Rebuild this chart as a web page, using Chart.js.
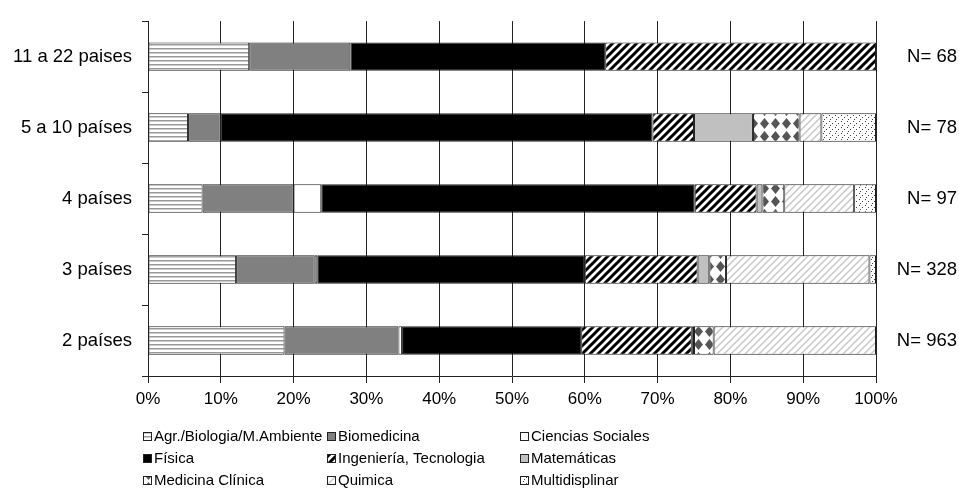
<!DOCTYPE html>
<html lang="es">
<head>
<meta charset="UTF-8">
<title>Países por área temática</title>
<style>
  body { margin: 0; background: #fff; }
  canvas { display: block; }
</style>
</head>
<body>
<canvas id="myChart" width="959" height="502"></canvas>
<script src="https://cdn.jsdelivr.net/npm/chart.js@4/dist/chart.umd.min.js"></script>
<script>
// datos (porcentaje de cada area por grupo de paises)
var categorias = ['11 a 22 paises', '5 a 10 países', '4 países', '3 países', '2 países'];
var nLabels = ['N= 68', 'N= 78', 'N= 97', 'N= 328', 'N= 963'];
var xTicks = [0, 10, 20, 30, 40, 50, 60, 70, 80, 90, 100];

var agr = [13.9, 5.5, 7.5, 12.1, 18.75];
var biomedicina = [13.9, 4.5, 12.5, 10.8, 15.65];
var cienciasSociales = [0, 0, 3.8, 0.35, 0.5];
var fisica = [35.0, 59.3, 51.3, 36.75, 24.6];
var ingenieria = [37.2, 5.7, 8.5, 15.5, 15.2];
var matematicas = [0, 8.1, 0.8, 1.6, 0.3];
var medicina = [0, 6.4, 3.0, 2.3, 2.7];
var quimica = [0, 3.0, 9.6, 19.7, 22.3];
var multidisciplinar = [0, 7.5, 3.0, 0.9, 0];

var nombres = ['Agr./Biologia/M.Ambiente', 'Biomedicina', 'Ciencias Sociales',
  'Física', 'Ingeniería, Tecnologia', 'Matemáticas',
  'Medicina Clínica', 'Quimica', 'Multidisplinar'];
var series = [agr, biomedicina, cienciasSociales, fisica, ingenieria, matematicas, medicina, quimica, multidisciplinar];

var FONT = "'Liberation Sans', Arial, sans-serif";

function patron(w, h, dibujar) {
  var c = document.createElement('canvas');
  c.width = w; c.height = h;
  var g = c.getContext('2d');
  g.fillStyle = '#fff';
  g.fillRect(0, 0, w, h);
  dibujar(g, w, h);
  return document.getElementById('myChart').getContext('2d').createPattern(c, 'repeat');
}

function diagonal(color, size, ancho) {
  return patron(size, size, function (g, s) {
    g.strokeStyle = color;
    g.lineWidth = ancho;
    g.beginPath();
    g.moveTo(-1, 1); g.lineTo(1, -1);
    g.moveTo(0, s); g.lineTo(s, 0);
    g.moveTo(s - 1, s + 1); g.lineTo(s + 1, s - 1);
    g.stroke();
  });
}

var rayas = patron(1, 4, function (g) {
  g.fillStyle = '#999'; g.fillRect(0, 0, 1, 1);
  g.fillStyle = '#ccc'; g.fillRect(0, 1, 1, 1);
});
var rombos = patron(11, 13, function (g) {
  g.fillStyle = '#555';
  g.beginPath();
  g.moveTo(5.5, 1); g.lineTo(10, 6.5); g.lineTo(5.5, 12); g.lineTo(1, 6.5);
  g.closePath();
  g.fill();
});
var puntos = patron(6, 6, function (g) {
  g.fillStyle = '#444';
  g.fillRect(1, 1, 1, 1);
  g.fillRect(4, 3, 1, 1);
  g.fillRect(2, 5, 1, 1);
});

var rellenos = [rayas, '#808080', '#ffffff', '#000000', diagonal('#000', 8, 3),
  '#c0c0c0', rombos, diagonal('#c8c8c8', 7, 1.5), puntos];

var datasets = series.map(function (d, i) {
  return {
    label: nombres[i],
    data: d,
    backgroundColor: rellenos[i],
    borderColor: '#222',
    borderWidth: 1,
    borderSkipped: false,
    barPercentage: 0.8,
    categoryPercentage: 0.5
  };
});

// leyenda en tres columnas como la original
var leyenda = {
  id: 'leyenda',
  afterDraw: function (chart) {
    var ctx = chart.ctx;
    var colX = [143, 327, 520];
    var filaY = [437, 459, 481];
    ctx.save();
    ctx.font = '15px ' + FONT;
    ctx.textBaseline = 'middle';
    ctx.textAlign = 'left';
    chart.data.datasets.forEach(function (ds, i) {
      var x = colX[i % 3], y = filaY[Math.floor(i / 3)];
      ctx.fillStyle = ds.backgroundColor;
      ctx.fillRect(x, y - 5, 9, 9);
      ctx.strokeStyle = '#222';
      ctx.lineWidth = 1;
      ctx.strokeRect(x + 0.5, y - 4.5, 8, 8);
      ctx.fillStyle = '#000';
      ctx.fillText(ds.label, x + 11, y);
    });
    ctx.restore();
  }
};

var ctx = document.getElementById('myChart').getContext('2d');
var myChart = new Chart(ctx, {
  type: 'bar',
  data: { labels: categorias, datasets: datasets },
  plugins: [leyenda],
  options: {
    indexAxis: 'y',
    responsive: false,
    animation: false,
    devicePixelRatio: 1,
    layout: { padding: { top: 16, right: 2, left: 0, bottom: 0 } },
    plugins: { legend: { display: false }, tooltip: { enabled: false } },
    scales: {
      x: {
        stacked: true,
        min: 0,
        max: 100,
        afterBuildTicks: function (scale) {
          scale.ticks = xTicks.map(function (v) { return { value: v }; });
        },
        ticks: {
          color: '#000',
          font: { family: FONT, size: 17 },
          padding: 6,
          maxRotation: 0,
          callback: function (v) { return v + '%'; }
        },
        grid: { color: '#222', lineWidth: 1, tickLength: 7 },
        border: { color: '#222' },
        afterFit: function (scale) { scale.height = 126; }
      },
      y: {
        stacked: true,
        position: 'left',
        ticks: { color: '#000', font: { family: FONT, size: 18.5 }, padding: 10 },
        grid: { drawOnChartArea: false, color: '#222', tickLength: 6, offset: true },
        border: { color: '#222' },
        afterFit: function (scale) { scale.width = 148; }
      },
      yN: {
        type: 'category',
        labels: nLabels,
        position: 'right',
        offset: true,
        ticks: { color: '#000', font: { family: FONT, size: 18.5 }, crossAlign: 'far' },
        grid: { display: false, drawTicks: false },
        border: { display: false },
        afterFit: function (scale) { scale.width = 81; }
      }
    }
  }
});
</script>
</body>
</html>
